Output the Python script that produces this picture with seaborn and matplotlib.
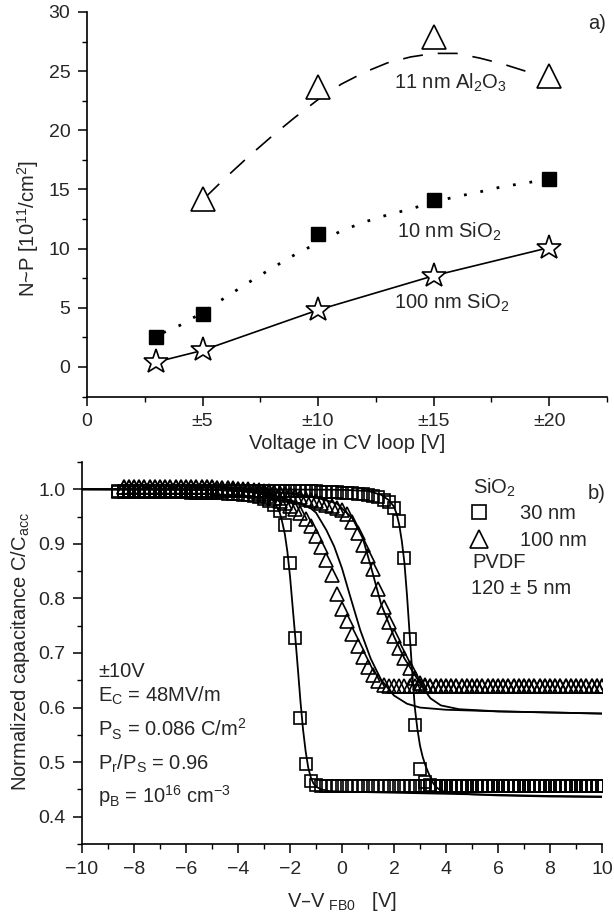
import numpy as np
import matplotlib
matplotlib.use("Agg")
import matplotlib.pyplot as plt
from matplotlib.lines import Line2D
from matplotlib.ticker import MultipleLocator, FixedLocator, FormatStrFormatter
import seaborn as sns

sns.set_theme(style="ticks")
plt.rcParams['font.family'] = ['Liberation Sans', 'DejaVu Sans']
plt.rcParams['mathtext.default'] = 'regular'
plt.rcParams['axes.unicode_minus'] = True

# ---------------- panel a) data ----------------
LOOP_V = [3, 5, 10, 15, 20]
AL2O3_V = [5, 10, 15, 20]
AL2O3_NP = [14.2, 23.7, 27.9, 24.6]
SIO2_10_NP = [2.5, 4.5, 11.2, 14.1, 15.85]
SIO2_100_NP = [0.42, 1.4, 4.82, 7.71, 10.09]

AL2O3_FIT_V = [5.1, 6, 7, 8, 9, 10, 11, 12, 13, 14, 15, 16, 17, 18, 19.3]
AL2O3_FIT_NP = [14.3, 16.0, 17.8, 19.5, 21.1, 22.6, 23.9, 24.9, 25.7, 26.2, 26.5, 26.5, 26.1, 25.6, 24.8]
SIO2_10_FIT_V = [3.3, 4, 5, 6, 7, 8, 9, 10, 11, 12, 13, 14, 15, 16, 17, 18, 19, 19.7]
SIO2_10_FIT_NP = [2.9, 3.5, 4.6, 5.9, 7.15, 8.35, 9.5, 10.5, 11.5, 12.25, 12.85, 13.35, 13.95, 14.4, 14.8, 15.25, 15.55, 15.8]

TOP_XTICKS = [0, 5, 10, 15, 20]
TOP_XTICKLABELS = ['0', '±5', '±10', '±15', '±20']

# ---------------- panel b) data ----------------
SQ_START, TR_START, V_END, V_STEP = -8.6, -8.4, 10.0, 0.2
SQ_V = np.round(np.arange(SQ_START, V_END + 0.01, V_STEP), 1)
TR_V = np.round(np.arange(TR_START, V_END + 0.01, V_STEP), 1)

SQ30_A = [0.995, 0.995, 0.995, 0.995, 0.995, 0.995, 0.995, 0.995, 0.995, 0.995,
          0.995, 0.995, 0.995, 0.995, 0.994, 0.994, 0.994, 0.994, 0.994, 0.993,
          0.993, 0.992, 0.992, 0.991, 0.990, 0.989, 0.987, 0.985, 0.982, 0.978,
          0.972, 0.960, 0.935, 0.864, 0.728, 0.580, 0.497, 0.466, 0.459, 0.457,
          0.456, 0.456, 0.456, 0.456, 0.456, 0.456, 0.456, 0.456, 0.456, 0.456,
          0.456, 0.456, 0.456, 0.456, 0.456, 0.456, 0.456, 0.456, 0.456, 0.456,
          0.456, 0.456, 0.456, 0.456, 0.456, 0.456, 0.456, 0.456, 0.456, 0.456,
          0.456, 0.456, 0.456, 0.456, 0.456, 0.456, 0.456, 0.456, 0.456, 0.456,
          0.456, 0.456, 0.456, 0.456, 0.456, 0.456, 0.456, 0.456, 0.456, 0.456,
          0.456, 0.456, 0.456, 0.456]
SQ30_B = [0.997, 0.997, 0.997, 0.997, 0.997, 0.997, 0.997, 0.997, 0.997, 0.997,
          0.997, 0.997, 0.997, 0.997, 0.997, 0.997, 0.997, 0.997, 0.997, 0.997,
          0.997, 0.997, 0.997, 0.997, 0.997, 0.997, 0.997, 0.997, 0.997, 0.997,
          0.997, 0.997, 0.997, 0.997, 0.996, 0.996, 0.996, 0.996, 0.996, 0.995,
          0.995, 0.995, 0.995, 0.994, 0.994, 0.993, 0.992, 0.991, 0.990, 0.988,
          0.985, 0.981, 0.976, 0.966, 0.942, 0.874, 0.726, 0.568, 0.487, 0.463,
          0.458, 0.456, 0.456, 0.456, 0.456, 0.456, 0.456, 0.456, 0.456, 0.456,
          0.456, 0.456, 0.456, 0.456, 0.456, 0.456, 0.456, 0.456, 0.456, 0.456,
          0.456, 0.456, 0.456, 0.456, 0.456, 0.456, 0.456, 0.456, 0.456, 0.456,
          0.456, 0.456, 0.456, 0.456]
TR100_A = [1.004, 1.004, 1.004, 1.004, 1.004, 1.004, 1.004, 1.004, 1.004, 1.004,
           1.004, 1.004, 1.004, 1.004, 1.004, 1.004, 1.004, 1.004, 1.003, 1.003,
           1.002, 1.001, 1.000, 0.999, 0.998, 0.996, 0.994, 0.991, 0.988, 0.984,
           0.979, 0.974, 0.969, 0.963, 0.956, 0.946, 0.933, 0.914, 0.894, 0.871,
           0.843, 0.808, 0.781, 0.758, 0.735, 0.713, 0.693, 0.674, 0.659, 0.648,
           0.642, 0.640, 0.640, 0.640, 0.640, 0.640, 0.640, 0.640, 0.640, 0.640,
           0.640, 0.640, 0.640, 0.640, 0.640, 0.640, 0.640, 0.640, 0.640, 0.640,
           0.640, 0.640, 0.640, 0.640, 0.640, 0.640, 0.640, 0.640, 0.640, 0.640,
           0.640, 0.640, 0.640, 0.640, 0.640, 0.640, 0.640, 0.640, 0.640, 0.640,
           0.640, 0.640, 0.640]
TR100_B = [1.004, 1.004, 1.004, 1.004, 1.004, 1.004, 1.004, 1.004, 1.004, 1.004,
           1.004, 1.004, 1.004, 1.004, 1.004, 1.004, 1.004, 1.004, 1.003, 1.003,
           1.002, 1.002, 1.001, 1.000, 1.000, 0.999, 0.998, 0.997, 0.996, 0.995,
           0.993, 0.991, 0.989, 0.987, 0.985, 0.983, 0.981, 0.978, 0.975, 0.972,
           0.969, 0.966, 0.962, 0.954, 0.940, 0.920, 0.898, 0.877, 0.853, 0.818,
           0.785, 0.757, 0.731, 0.709, 0.690, 0.672, 0.655, 0.645, 0.641, 0.640,
           0.640, 0.640, 0.640, 0.640, 0.640, 0.640, 0.640, 0.640, 0.640, 0.640,
           0.640, 0.640, 0.640, 0.640, 0.640, 0.640, 0.640, 0.640, 0.640, 0.640,
           0.640, 0.640, 0.640, 0.640, 0.640, 0.640, 0.640, 0.640, 0.640, 0.640,
           0.640, 0.640, 0.640]

FIT_SQ_A_V = [-10, -6, -4, -3.2, -2.8, -2.6, -2.4, -2.3, -2.2, -2.1, -2.0, -1.9, -1.8, -1.7,
              -1.6, -1.5, -1.4, -1.3, -1.2, -1.1, -1.0, -0.8, -0.5, 0, 2, 4, 6, 8, 10]
FIT_SQ_A_C = [1.0, 1.0, 0.998, 0.993, 0.986, 0.976, 0.958, 0.94, 0.918, 0.885, 0.84, 0.785, 0.73,
              0.672, 0.612, 0.56, 0.52, 0.49, 0.472, 0.461, 0.455, 0.45, 0.447, 0.446, 0.444,
              0.442, 0.44, 0.438, 0.437]
FIT_SQ_B_V = [-10, -4, 0, 1.0, 1.5, 1.8, 2.0, 2.1, 2.2, 2.3, 2.4, 2.5, 2.6, 2.7, 2.8, 2.9, 3.0,
              3.1, 3.2, 3.3, 3.4, 3.5, 3.6, 3.8, 4.0, 5, 6, 8, 10]
FIT_SQ_B_C = [1.0, 1.0, 0.999, 0.997, 0.99, 0.98, 0.968, 0.955, 0.935, 0.905, 0.865, 0.805, 0.735,
              0.665, 0.6, 0.56, 0.53, 0.51, 0.495, 0.483, 0.472, 0.462, 0.455, 0.448, 0.445,
              0.441, 0.439, 0.437, 0.436]
FIT_TR_A_V = [-10, -5, -4, -3, -2.5, -2.0, -1.5, -1.2, -1.0, -0.6, -0.3, 0, 0.3, 0.7, 1.1, 1.5,
              2.0, 2.5, 3.0, 4.0, 6, 8, 10]
FIT_TR_A_C = [1.0, 0.999, 0.997, 0.992, 0.987, 0.98, 0.972, 0.965, 0.957, 0.925, 0.895, 0.855,
              0.806, 0.742, 0.69, 0.651, 0.622, 0.607, 0.6, 0.596, 0.593, 0.591, 0.589]
FIT_TR_B_V = [-10, -5, -2, -1, -0.2, 0.4, 0.8, 1.1, 1.5, 2.0, 2.4, 2.8, 3.1, 3.4, 3.8, 4.5, 6, 8, 10]
FIT_TR_B_C = [1.0, 0.999, 0.993, 0.985, 0.974, 0.947, 0.91, 0.86, 0.79, 0.73, 0.69, 0.66, 0.637,
              0.617, 0.604, 0.597, 0.593, 0.591, 0.589]

FS = 14.5
TFS = 14

fig = plt.figure(figsize=(6.14, 9.15), dpi=100)
ax1 = fig.add_axes([0.1417, 0.5666, 0.8469, 0.4203])
ax2 = fig.add_axes([0.1336, 0.0776, 0.8469, 0.4175])

# ---------------- panel a) ----------------
sns.lineplot(x=AL2O3_FIT_V, y=AL2O3_FIT_NP, ax=ax1, color='black', lw=1.2,
             linestyle=(0, (12, 9)), estimator=None, sort=False, zorder=2)
sns.lineplot(x=SIO2_10_FIT_V, y=SIO2_10_FIT_NP, ax=ax1, color='black', lw=2.0,
             linestyle=(0, (1, 5)), estimator=None, sort=False, zorder=2)
sns.lineplot(x=LOOP_V, y=SIO2_100_NP, ax=ax1, color='black', lw=1.2,
             estimator=None, sort=False, zorder=2)
sns.lineplot(x=AL2O3_V, y=AL2O3_NP, ax=ax1, marker='^', linestyle='', ms=17,
             markerfacecolor='white', markeredgecolor='black', mew=1.2,
             estimator=None, sort=False, zorder=3)
sns.lineplot(x=LOOP_V, y=SIO2_10_NP, ax=ax1, marker='s', linestyle='', ms=10.5,
             markerfacecolor='black', markeredgecolor='black', mew=1.0,
             estimator=None, sort=False, zorder=3)
sns.lineplot(x=LOOP_V, y=SIO2_100_NP, ax=ax1, marker='*', linestyle='', ms=18.5,
             markerfacecolor='white', markeredgecolor='black', mew=1.2,
             estimator=None, sort=False, zorder=3)

ax1.set_xlim(0, 22.5)
ax1.set_ylim(-2.5, 30)
ax1.xaxis.set_major_locator(FixedLocator(TOP_XTICKS))
ax1.set_xticklabels(TOP_XTICKLABELS)
ax1.xaxis.set_minor_locator(FixedLocator([2.5, 7.5, 12.5, 17.5, 22.5]))
ax1.yaxis.set_major_locator(MultipleLocator(5))
ax1.yaxis.set_minor_locator(MultipleLocator(2.5))
ax1.set_xlabel('Voltage in CV loop [V]', fontsize=FS, labelpad=3)
ax1.set_ylabel('N~P [10$^{11}$/cm$^{2}$]', fontsize=FS)
ax1.yaxis.set_label_coords(-0.088, 0.438)

ax1.text(13.3, 23.5, '11 nm Al$_2$O$_3$', fontsize=FS, ha='left', va='baseline')
ax1.text(13.4, 10.95, '10 nm SiO$_2$', fontsize=FS, ha='left', va='baseline')
ax1.text(13.3, 4.9, '100 nm SiO$_2$', fontsize=FS, ha='left', va='baseline')
ax1.text(22.45, 28.6, 'a)', fontsize=FS, ha='right', va='baseline')

# ---------------- panel b) ----------------
for fv, fc in [(FIT_SQ_A_V, FIT_SQ_A_C), (FIT_SQ_B_V, FIT_SQ_B_C),
               (FIT_TR_A_V, FIT_TR_A_C), (FIT_TR_B_V, FIT_TR_B_C)]:
    sns.lineplot(x=fv, y=fc, ax=ax2, color='black', lw=1.3, estimator=None,
                 sort=False, zorder=3)
for yv in (SQ30_A, SQ30_B):
    sns.lineplot(x=SQ_V, y=yv, ax=ax2, marker='s', linestyle='', ms=8,
                 markerfacecolor='none', markeredgecolor='black', mew=1.2,
                 estimator=None, sort=False, zorder=2)
for yv in (TR100_A, TR100_B):
    sns.lineplot(x=TR_V, y=yv, ax=ax2, marker='^', linestyle='', ms=9.5,
                 markerfacecolor='none', markeredgecolor='black', mew=1.2,
                 estimator=None, sort=False, zorder=2)

ax2.set_xlim(-10, 10)
ax2.set_ylim(0.35, 1.05)
ax2.xaxis.set_major_locator(MultipleLocator(2))
ax2.xaxis.set_minor_locator(MultipleLocator(1))
ax2.yaxis.set_major_locator(FixedLocator([0.4, 0.5, 0.6, 0.7, 0.8, 0.9, 1.0]))
ax2.yaxis.set_major_formatter(FormatStrFormatter('%.1f'))
ax2.yaxis.set_minor_locator(FixedLocator([0.35, 0.45, 0.55, 0.65, 0.75, 0.85, 0.95, 1.05]))
ax2.set_xlabel('V–V$_{\\ FB0}$   [V]', fontsize=FS, labelpad=9)
ax2.set_ylabel('Normalized capacitance C/C$_{acc}$', fontsize=FS)
ax2.yaxis.set_label_coords(-0.097, 0.503)

notes = ['±10V', 'E$_C$ = 48MV/m', 'P$_S$ = 0.086 C/m$^2$',
         'P$_r$/P$_S$ = 0.96', 'p$_B$ = 10$^{16}$ cm$^{-3}$']
note_y = [0.656, 0.611, 0.547, 0.487, 0.425]
for t, yv in zip(notes, note_y):
    ax2.text(-9.38, yv, t, fontsize=FS, ha='left', va='baseline')

ax2.text(5.03, 0.991, 'SiO$_2$', fontsize=FS, ha='left', va='baseline')
ax2.text(5.0, 0.855, 'PVDF', fontsize=FS, ha='left', va='baseline')
ax2.text(4.97, 0.809, '120 ± 5 nm', fontsize=FS, ha='left', va='baseline')
ax2.text(10.15, 0.982, 'b)', fontsize=FS, ha='right', va='baseline', clip_on=False)

handles = [Line2D([], [], marker='s', linestyle='', ms=9.5, markerfacecolor='none',
                  markeredgecolor='black', mew=1.2),
           Line2D([], [], marker='^', linestyle='', ms=13, markerfacecolor='none',
                  markeredgecolor='black', mew=1.2)]
ax2.legend(handles, ['30 nm', '100 nm'], loc='upper left', bbox_to_anchor=(4.885, 0.973),
           bbox_transform=ax2.transData, frameon=False, borderpad=0, borderaxespad=0,
           handlelength=1.0, handletextpad=1.55, labelspacing=0.4, fontsize=FS)

for ax in (ax1, ax2):
    for s in ('top', 'right'):
        ax.spines[s].set_visible(False)
    for s in ('left', 'bottom'):
        ax.spines[s].set_linewidth(1.2)
        ax.spines[s].set_color('black')
    ax.tick_params(which='major', direction='out', length=6.5, width=1.1,
                   labelsize=TFS, color='black', pad=5.5)
    ax.tick_params(which='minor', direction='out', length=3.5, width=1.0, color='black')
    ax.set_facecolor('white')

fig.savefig('out.png', dpi=100, facecolor='white')
